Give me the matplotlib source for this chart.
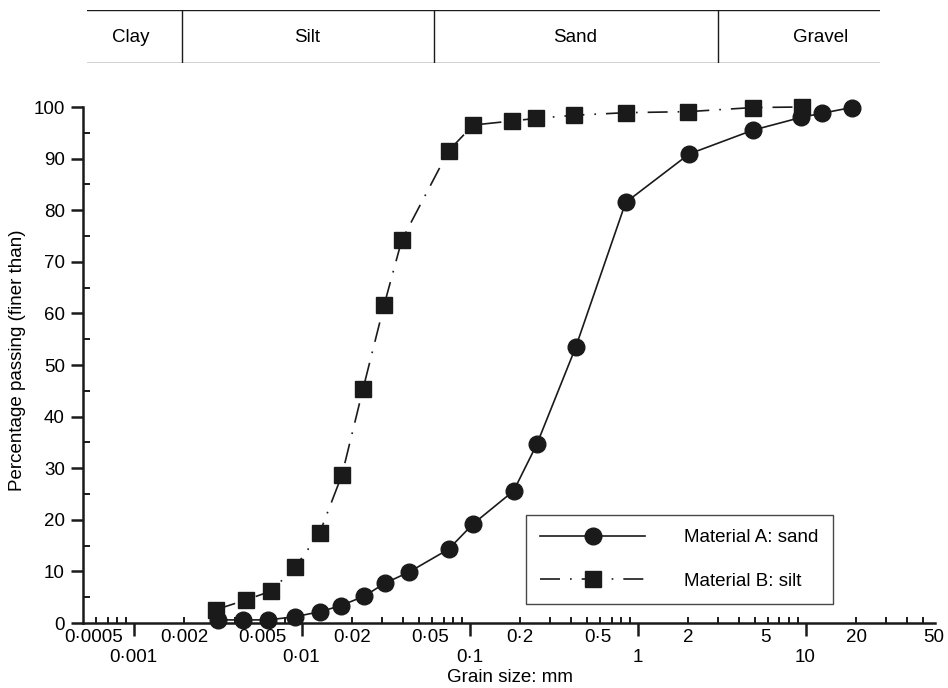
import matplotlib
matplotlib.use("Agg")
import matplotlib.pyplot as plt
import matplotlib.transforms as mtransforms
from matplotlib.ticker import FixedLocator, NullFormatter

plt.rcParams['font.family'] = ['Liberation Sans', 'DejaVu Sans']

# Material A: sand (grain size mm, percentage passing)
sand_size = [0.0032, 0.0045, 0.0063, 0.0091, 0.0129, 0.0171, 0.0236, 0.0313, 0.0438,
             0.075, 0.105, 0.183, 0.252, 0.428, 0.85, 2.03, 4.85, 9.46, 12.6, 18.8]
sand_pass = [0.6, 0.6, 0.6, 1.2, 2.2, 3.35, 5.2, 7.7, 9.9,
             14.3, 19.2, 25.6, 34.7, 53.4, 81.5, 90.9, 95.5, 98.0, 98.8, 99.9]

# Material B: silt
silt_size = [0.0031, 0.0047, 0.0066, 0.0092, 0.0128, 0.0174, 0.0232, 0.031, 0.0395,
             0.075, 0.105, 0.18, 0.25, 0.42, 0.85, 2.0, 4.9, 9.5]
silt_pass = [2.6, 4.5, 6.2, 10.9, 17.4, 28.7, 45.3, 61.6, 74.2,
             91.5, 96.5, 97.3, 97.8, 98.4, 98.9, 99.1, 99.9, 100.0]

upper_labels = [0.0005, 0.002, 0.005, 0.02, 0.05, 0.2, 0.5, 2, 5, 20, 50]
lower_labels = [0.001, 0.01, 0.1, 1, 10]

bands = ['Clay', 'Silt', 'Sand', 'Gravel']
band_edges = [0.0, 0.120, 0.437, 0.796, 1.0]
band_text_x = [0.055, 0.278, 0.615, 0.925]

ink = '#1a1a1a'
fs = 13.5
W, H = 948, 688

fig = plt.figure(figsize=(W / 100, H / 100), dpi=100)
ax = fig.add_axes([83 / W, 1 - 623 / H, (935 - 83) / W, (623 - 107) / H])

ax.plot(sand_size, sand_pass, color=ink, lw=1.2, marker='o', ms=12,
        mfc=ink, mec=ink, clip_on=False, label='Material A: sand', zorder=3)
ax.plot(silt_size, silt_pass, color=ink, lw=1.2, ls=(0, (12, 6, 1, 6)), marker='s',
        ms=11, mfc=ink, mec=ink, clip_on=False, label='Material B: silt', zorder=3)

ax.set_xscale('log')
ax.set_xlim(0.0005, 59)
ax.set_ylim(0, 100)

for s in ['top', 'right']:
    ax.spines[s].set_visible(False)
for s in ['left', 'bottom']:
    ax.spines[s].set_linewidth(1.8)
    ax.spines[s].set_color(ink)

# x ticks: decades pointing down, minors pointing up
decades = [0.001, 0.01, 0.1, 1, 10]
minors = [m * d for d in [0.0001] + decades for m in range(2, 10)]
minors = [v for v in minors if 0.0005 < v < 60]
ax.xaxis.set_major_locator(FixedLocator(decades))
ax.xaxis.set_minor_locator(FixedLocator(minors))
ax.xaxis.set_major_formatter(NullFormatter())
ax.xaxis.set_minor_formatter(NullFormatter())
ax.tick_params(axis='x', which='major', direction='out', length=9.5, width=1.8, color=ink)
ax.tick_params(axis='x', which='minor', direction='in', length=4.5, width=1.4, color=ink)

ax.set_yticks(range(0, 101, 10))
ax.set_yticks(range(5, 100, 10), minor=True)
ax.tick_params(axis='y', which='major', direction='out', length=8.5, width=1.8,
               color=ink, labelsize=fs, pad=4.5)
ax.tick_params(axis='y', which='minor', direction='in', length=5, width=1.4, color=ink)


def fmt(v):
    return f"{v:g}".replace('.', '\u00b7')


blend = mtransforms.blended_transform_factory(ax.transData, ax.transAxes)
for v in upper_labels:
    dx = 11 if fmt(v).rstrip('0').endswith('5') else 0
    tr = mtransforms.offset_copy(blend, fig=fig, x=dx, y=-14, units='dots')
    ax.text(v, 0, fmt(v), transform=tr, ha='center', va='center', fontsize=fs)
for v in lower_labels:
    tr = mtransforms.offset_copy(blend, fig=fig, x=0, y=-34, units='dots')
    ax.text(v, 0, fmt(v), transform=tr, ha='center', va='center', fontsize=fs)

fig.text(510 / W, 1 - 678 / H, 'Grain size: mm', ha='center', va='center', fontsize=fs)
fig.text(18 / W, 1 - 360 / H, 'Percentage passing (finer than)', rotation=90,
         ha='center', va='center', fontsize=fs)

leg = ax.legend(loc='upper left', bbox_to_anchor=(526 / W, 1 - 515 / H),
                bbox_transform=fig.transFigure, fontsize=fs, frameon=True,
                fancybox=False, edgecolor=ink, handlelength=5.6, handletextpad=2.1,
                labelspacing=1.4, borderpad=0.75, borderaxespad=0)
leg.get_frame().set_linewidth(1.0)

# classification band above the chart
band = fig.add_axes([87 / W, 1 - 63 / H, (880 - 87) / W, 53 / H])
band.set_xlim(0, 1)
band.set_ylim(0, 1)
band.axis('off')
band.axhline(0, color=ink, lw=1.0)
band.axhline(1, color=ink, lw=1.0)
for e in band_edges[1:-1]:
    band.axvline(e, color=ink, lw=1.0)
for name, x in zip(bands, band_text_x):
    band.text(x, 0.48, name, ha='center', va='center', fontsize=fs)

fig.savefig('out.png', dpi=100, facecolor='white')
